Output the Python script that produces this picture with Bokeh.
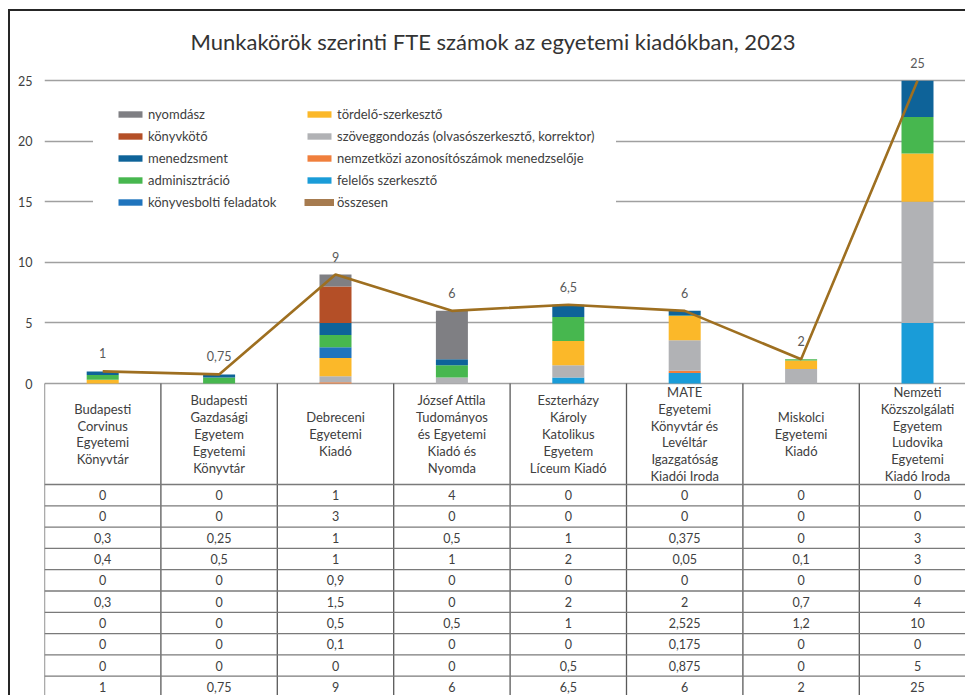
from bokeh.plotting import figure
from bokeh.models import Range1d, FixedTicker, Legend, LegendItem, ColumnDataSource
from bokeh.core.properties import value
from bokeh.embed import file_html
from bokeh.resources import INLINE

# ---------------- data ----------------
categories = [
    "Budapesti\nCorvinus\nEgyetemi\nKönyvtár",
    "Budapesti\nGazdasági\nEgyetem\nEgyetemi\nKönyvtár",
    "Debreceni\nEgyetemi\nKiadó",
    "József Attila\nTudományos\nés Egyetemi\nKiadó és\nNyomda",
    "Eszterházy\nKároly\nKatolikus\nEgyetem\nLíceum Kiadó",
    "MATE\nEgyetemi\nKönyvtár és\nLevéltár\nIgazgatóság\nKiadói Iroda",
    "Miskolci\nEgyetemi\nKiadó",
    "Nemzeti\nKözszolgálati\nEgyetem\nLudovika\nEgyetemi\nKiadó Iroda",
]
nyomdasz = [0, 0, 1, 4, 0, 0, 0, 0]
konyvkoto = [0, 0, 3, 0, 0, 0, 0, 0]
menedzsment = [0.3, 0.25, 1, 0.5, 1, 0.375, 0, 3]
adminisztracio = [0.4, 0.5, 1, 1, 2, 0.05, 0.1, 3]
konyvesbolti = [0, 0, 0.9, 0, 0, 0, 0, 0]
tordelo = [0.3, 0, 1.5, 0, 2, 2, 0.7, 4]
szoveggondozas = [0, 0, 0.5, 0.5, 1, 2.525, 1.2, 10]
nemzetkozi = [0, 0, 0.1, 0, 0, 0.175, 0, 0]
felelos = [0, 0, 0, 0, 0.5, 0.875, 0, 5]
osszesen = [1, 0.75, 9, 6, 6.5, 6, 2, 25]

series_labels = {
    "nyomdasz": "nyomdász",
    "konyvkoto": "könyvkötő",
    "menedzsment": "menedzsment",
    "adminisztracio": "adminisztráció",
    "konyvesbolti": "könyvesbolti feladatok",
    "tordelo": "tördelő-szerkesztő",
    "szoveggondozas": "szöveggondozás (olvasószerkesztő, korrektor)",
    "nemzetkozi": "nemzetközi azonosítószámok menedzselője",
    "felelos": "felelős szerkesztő",
    "osszesen": "összesen",
}
y_ticks = [0, 5, 10, 15, 20, 25]
title_text = "Munkakörök szerinti FTE számok az egyetemi kiadókban, 2023"

# ---------------- styles ----------------
colors = {
    "nyomdasz": "#7f7f83",
    "konyvkoto": "#b44f27",
    "menedzsment": "#0e6399",
    "adminisztracio": "#47b74f",
    "konyvesbolti": "#1f74bd",
    "tordelo": "#fbb829",
    "szoveggondozas": "#b1b2b5",
    "nemzetkozi": "#f07f3c",
    "felelos": "#1a9cd8",
}
line_color = "#9e6f20"
legend_line_color = "#a67b4f"
FONT = "Lato"
TXT = "#404040"

stack_order = ["felelos", "nemzetkozi", "szoveggondozas", "tordelo", "konyvesbolti",
               "adminisztracio", "menedzsment", "konyvkoto", "nyomdasz"]
table_order = ["nyomdasz", "konyvkoto", "menedzsment", "adminisztracio", "konyvesbolti",
               "tordelo", "szoveggondozas", "nemzetkozi", "felelos", "osszesen"]
series = {
    "nyomdasz": nyomdasz, "konyvkoto": konyvkoto, "menedzsment": menedzsment,
    "adminisztracio": adminisztracio, "konyvesbolti": konyvesbolti, "tordelo": tordelo,
    "szoveggondozas": szoveggondozas, "nemzetkozi": nemzetkozi, "felelos": felelos,
    "osszesen": osszesen,
}

def fmt(v):
    return f"{v:g}".replace(".", ",")

n = len(categories)
xs = [i + 0.5 for i in range(n)]

# layout (page pixels)
OX, OY = 10, 11                 # canvas origin after margin + border
W, H = 957, 686
FRAME_LEFT, FRAME_TOP = 44, 56
LEFT, TOP = FRAME_LEFT - OX, FRAME_TOP - OY
PX = 12.11                      # px per unit
frame_h = H - TOP
zero_px = 383 - FRAME_TOP
y_end = zero_px / PX
y_start = -(frame_h - zero_px) / PX
col_px = 116.4
x_end = (W - LEFT) / col_px

header_h = 101 / PX
row_h = 21.3 / PX

p = figure(width=W, height=H, output_backend="svg", toolbar_location=None,
           x_range=Range1d(0, x_end), y_range=Range1d(y_start, y_end),
           x_axis_location=None, min_border_left=LEFT, min_border_top=TOP,
           min_border_right=0, min_border_bottom=0, title=title_text)
p.margin = (9, 0, 0, 8)
p.stylesheets = [":host { border-left: 2px solid #262626; border-top: 2px solid #262626; }"]
p.outline_line_color = None
p.background_fill_color = "white"
p.border_fill_color = "white"

p.title.align = "left"
p.title.offset = 190 - FRAME_LEFT
p.title.text_font = FONT
p.title.text_font_size = "22px"
p.title.text_font_style = "normal"
p.title.text_color = "#333333"
p.title.standoff = 3

p.yaxis.ticker = FixedTicker(ticks=y_ticks)
p.yaxis.axis_line_color = None
p.yaxis.major_tick_line_color = None
p.yaxis.major_tick_out = 0
p.yaxis.major_tick_in = 0
p.yaxis.minor_tick_line_color = None
p.yaxis.major_label_text_font = FONT
p.yaxis.major_label_text_font_size = "12.5px"
p.yaxis.major_label_text_color = TXT
p.yaxis.major_label_standoff = 12
p.xgrid.visible = False
p.ygrid.ticker = FixedTicker(ticks=y_ticks)
p.ygrid.grid_line_color = "#a0a0a0"
p.ygrid.grid_line_width = 1.3

# ---------------- bars ----------------
data = {"x": xs}
for k in stack_order:
    data[k] = series[k]
src = ColumnDataSource(data)
bar_renderers = p.vbar_stack(stack_order, x="x", width=0.275, source=src,
                             color=[colors[k] for k in stack_order], line_color=None)
rmap = dict(zip(stack_order, bar_renderers))

# ---------------- total line ----------------
tot_src = ColumnDataSource(dict(x=xs, y=osszesen, t=[fmt(v) for v in osszesen]))
p.line("x", "y", source=tot_src, line_color=line_color, line_width=2.6)
p.text("x", "y", text="t", source=tot_src, text_font=value(FONT), text_font_size="12.5px",
       text_color="#595959", text_align="center", text_baseline="middle", y_offset=-18)
legend_line = p.line(x=[float("nan")], y=[float("nan")], line_color=legend_line_color,
                     line_width=7)

# ---------------- table ----------------
p.segment(x0=list(range(n + 1)), y0=[0] * (n + 1), x1=list(range(n + 1)),
          y1=[y_start] * (n + 1), line_color="#595959", line_width=1.3)
row_lines = [-header_h - k * row_h for k in range(len(table_order) + 1)]
p.segment(x0=[0] * len(row_lines), y0=row_lines, x1=[n] * len(row_lines), y1=row_lines,
          line_color="#7a7a7a", line_width=1.3)
p.text(x=xs, y=[-header_h / 2] * n, text=categories, text_font=value(FONT),
       text_font_size="13px", text_color=TXT, text_align="center",
       text_baseline="middle", text_line_height=1.05)
tx, ty, tt = [], [], []
for r, k in enumerate(table_order):
    for i in range(n):
        tx.append(xs[i])
        ty.append(-header_h - (r + 0.5) * row_h)
        tt.append(fmt(series[k][i]))
p.text(x=tx, y=ty, text=tt, text_font=value(FONT), text_font_size="12.5px",
       text_color=TXT, text_align="center", text_baseline="middle")

# ---------------- legends ----------------
col1 = ["nyomdasz", "konyvkoto", "menedzsment", "adminisztracio", "konyvesbolti"]
col2 = ["tordelo", "szoveggondozas", "nemzetkozi", "felelos"]
items1 = [LegendItem(label=series_labels[k], renderers=[rmap[k]]) for k in col1]
items2 = [LegendItem(label=series_labels[k], renderers=[rmap[k]]) for k in col2]
items2.append(LegendItem(label=series_labels["osszesen"], renderers=[legend_line]))

leg_h = 2 * 14 + 5 * 20 + 4 * 2
leg_top = 115 - FRAME_TOP - 39 + 22
for items, xpos, lw in ((items1, 119 - FRAME_LEFT - 3 - 23, 140),
                        (items2, 309 - FRAME_LEFT - 2 - 25, 256)):
    lg = Legend(items=items, location=(xpos, frame_h - leg_top - leg_h),
                orientation="vertical", glyph_width=30, glyph_height=8,
                label_standoff=3, spacing=2, label_height=20, label_width=lw,
                padding=14, margin=0, border_line_color="white", border_line_width=8,
                background_fill_color="white", background_fill_alpha=1.0,
                label_text_font=FONT, label_text_font_size="13px",
                label_text_color=TXT)
    p.add_layout(lg, "center")

open("out.html", "w").write(file_html(p, INLINE))
